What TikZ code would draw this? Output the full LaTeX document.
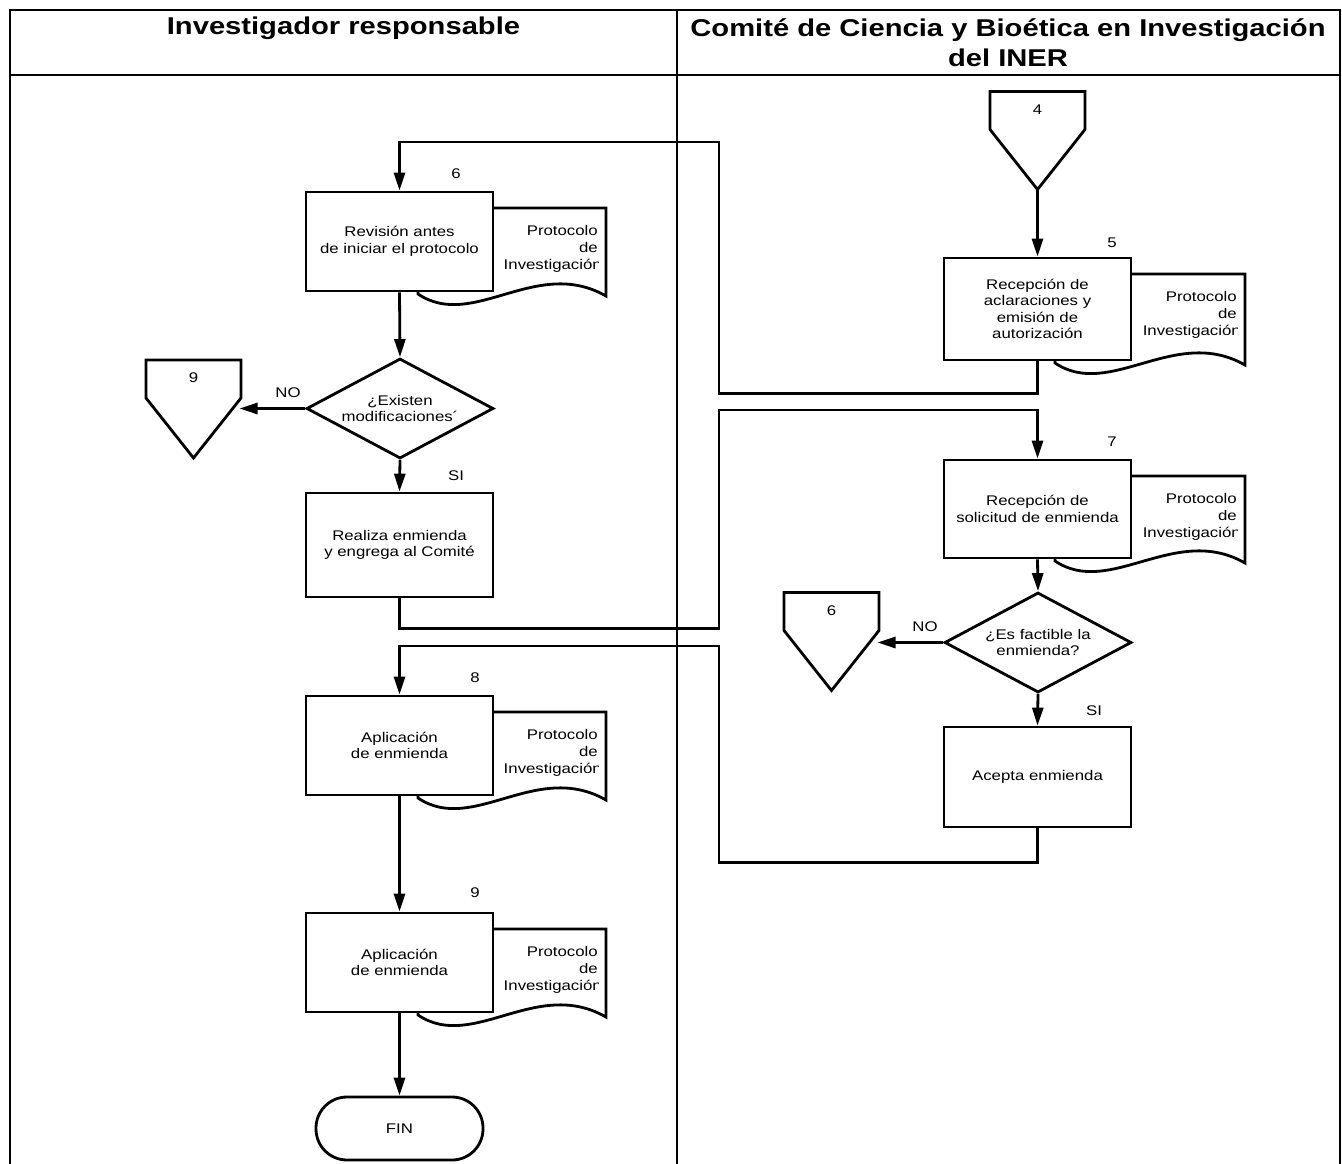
\documentclass[tikz,border=0pt]{standalone}
\usepackage{fontspec}
\setmainfont{Liberation Sans}[FakeStretch=1.2]
\usetikzlibrary{shapes.geometric,arrows.meta}
\tikzset{
 shp/.style={draw, line width=2.8pt, fill=white},
 txt/.style={font=\fontsize{14}{16.5}\selectfont, inner sep=0pt},
 box/.style={shp, rectangle, minimum width=187pt, align=center, inner sep=0pt, font=\fontsize{14}{16.5}\selectfont},
 dec/.style={shp, diamond, shape aspect=1.88, minimum width=187pt, minimum height=100pt, inner sep=0pt, align=center, font=\fontsize{14}{16.5}\selectfont},
 term/.style={shp, rectangle, rounded corners=31pt, minimum width=167pt, minimum height=63pt, inner sep=0pt, font=\fontsize{14}{16.5}\selectfont},
 conn/.style={line width=2.8pt},
 arr/.style={conn, -{Triangle[length=18pt,width=11pt]}},
 lane/.style={line width=2pt},
 hdr/.style={font=\fontsize{24.3}{30}\selectfont\bfseries, align=center, inner sep=0pt},
 offpage/.pic={
  \draw[shp] (-47.5,-49) -- (47.5,-49) -- (47.5,-11) -- (0,49) -- (-47.5,-11) -- cycle;
  \node[txt] (-t) at (0,-31) {#1};
  \coordinate (-s) at (0,49);
  \coordinate (-e) at (46,1);
 },
}
\newcommand\docshp[5]{%
 \draw[shp] (#2,#3) -- (#4,#3) -- (#4,#5) .. controls (#4-70,#5-40) and (#2+55,#5+35) .. (#2,#5-2) -- cycle;
 \node[txt,anchor=base east] (#1a) at (#4-8,#3+27) {Protocolo};
 \node[txt,anchor=base east] (#1b) at (#4-8,#3+44) {de};
 \begin{scope}
  \clip (#2,#3) rectangle (#4-8,#5);
  \node[txt,anchor=base east] (#1c) at (#4-4,#3+61) {Investigación};
 \end{scope}}
\begin{document}
\begin{tikzpicture}[x=1pt,y=-1pt]
\useasboundingbox (0,0) rectangle (1342,1164);
\fill[white] (0,0) rectangle (1342,1164);
% frame
\draw[lane] (10,1175) -- (10,10) -- (1340,10) -- (1340,1175);
\draw[lane] (10,75) -- (1340,75);
\draw[lane] (677,10) -- (677,1175);
\node[hdr] (h1) at (343.5,28) {Investigador responsable};
\node[hdr] (h2) at (1008,43) {Comité de Ciencia y Bioética en Investigación\\del INER};

% documents
\docshp{docA}{418}{208}{606}{296}
\docshp{docB}{1055}{274}{1245}{365}
\docshp{docC}{1055}{476}{1245}{563}
\docshp{docD}{418}{712}{606}{800}
\docshp{docE}{418}{929}{606}{1017}

% left lane
\node[box, minimum height=99pt] (b6) at (399.5,241.5) {Revisión antes\\de iniciar el protocolo};
\node[txt] (n6) at (456,174) {6};
\node[dec] (d1) at (400,408.5) {¿Existen\\modificaciones´};
\pic (off9) at (193.5,409) {offpage=9};
\node[box, minimum height=104pt] (bR) at (399.5,545) {Realiza enmienda\\y engrega al Comité};
\node[box, minimum height=99pt] (b8) at (399.5,745.5) {Aplicación\\de enmienda};
\node[txt] (n8) at (475,678) {8};
\node[box, minimum height=99pt] (b9) at (399.5,962.5) {Aplicación\\de enmienda};
\node[txt] (n9) at (475,893) {9};
\node[term] (fin) at (399.5,1128.5) {FIN};

% right lane
\pic (off4) at (1037.5,140.5) {offpage=4};
\node[box, minimum height=102pt] (b5) at (1037.5,309) {Recepción de\\aclaraciones y\\emisión de\\autorización};
\node[txt] (n5) at (1112,243) {5};
\node[box, minimum height=98pt] (b7) at (1037.5,509) {Recepción de\\solicitud de enmienda};
\node[txt] (n7) at (1112,442) {7};
\node[dec] (d2) at (1038,642.5) {¿Es factible la\\enmienda?};
\pic (off6) at (831.5,641.5) {offpage=6};
\node[box, minimum height=100pt] (bA) at (1037.5,777) {Acepta enmienda};

% labels
\node[txt] (no1) at (288,393) {NO};
\node[txt] (si1) at (456,476) {SI};
\node[txt] (no2) at (925,627) {NO};
\node[txt] (si2) at (1094,711) {SI};

% route coordinates
\coordinate (r1) at (719,142);
\coordinate (r2) at (719,410);
\coordinate (r3) at (719,646);

% connectors
\draw[arr] (off4-s) -- (off4-s |- b5.north);
\draw[arr] (b5.south) -- ++(0,32) -| (r1) -| (b6.north);
\draw[arr] (b6.south) -- (d1.north);
\draw[arr] (d1.west) -- (d1.west -| off9-e);
\draw[arr] (d1.south) -- (bR.north);
\draw[arr] (bR.south) -- ++(0,30) -| (r2) -| (b7.north);
\draw[arr] (b7.south) -- (d2.north);
\draw[arr] (d2.west) -- (d2.west -| off6-e);
\draw[arr] (d2.south) -- (bA.north);
\draw[arr] (bA.south) -- ++(0,34) -| (r3) -| (b8.north);
\draw[arr] (b8.south) -- (b9.north);
\draw[arr] (b9.south) -- (fin.north);
\end{tikzpicture}
\end{document}
